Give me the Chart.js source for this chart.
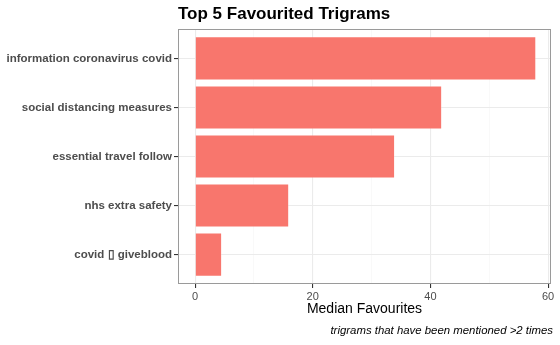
<!DOCTYPE html>
<html>
<head>
<meta charset="utf-8">
<script src="https://cdn.jsdelivr.net/npm/chart.js@4"></script>
<style>
  html, body { margin: 0; padding: 0; background: #fff; }
  #wrap { width: 560px; height: 345px; position: relative; }
</style>
</head>
<body>
<div id="wrap"><canvas id="trigramChart"></canvas></div>
<script>
// data
const trigrams = ['information coronavirus covid', 'social distancing measures', 'essential travel follow', 'nhs extra safety', 'covid \u25AF giveblood'];
const medianFavourites = [58, 42, 34, 16, 4.6];
const xTicks = [0, 10, 20, 30, 40, 50, 60];
const xLabelled = [0, 20, 40, 60];

const barColor = '#F8766D';
const majorGrid = '#ebebeb';
const minorGrid = '#f5f5f5';
const textGrey = '#4d4d4d';
const fontFamily = "'Liberation Sans', Arial, sans-serif";

Chart.defaults.font.family = fontFamily;

// title, caption and panel border in ggplot style
const decorations = {
    id: 'decorations',
    afterDraw(chart) {
        const { ctx, chartArea } = chart;
        ctx.save();
        ctx.strokeStyle = '#9a9a9a';
        ctx.lineWidth = 1;
        ctx.strokeRect(chartArea.left + 0.5, chartArea.top + 0.5, chartArea.right - chartArea.left - 1, chartArea.bottom - chartArea.top - 1);

        ctx.fillStyle = '#000';
        ctx.font = 'bold 17px ' + fontFamily;
        ctx.textBaseline = 'middle';
        ctx.textAlign = 'left';
        ctx.fillText('Top 5 Favourited Trigrams', chartArea.left, 14);

        ctx.font = 'italic 11.4px ' + fontFamily;
        ctx.textAlign = 'right';
        ctx.fillText('trigrams that have been mentioned >2 times', chartArea.right + 2, 331);
        ctx.restore();
    }
};

new Chart(document.getElementById('trigramChart'), {
    type: 'bar',
    data: {
        datasets: [{
            data: medianFavourites.map((v, i) => ({ x: v, y: i + 1 })),
            backgroundColor: barColor,
            borderColor: 'rgba(255,255,255,0.25)',
            borderWidth: 1,
            categoryPercentage: 1,
            barPercentage: 0.9
        }]
    },
    options: {
        indexAxis: 'y',
        responsive: true,
        maintainAspectRatio: false,
        animation: false,
        layout: { padding: { top: 29, right: 9, bottom: 27, left: 0 } },
        plugins: { legend: { display: false }, tooltip: { enabled: false } },
        scales: {
            x: {
                type: 'linear',
                min: -2.9,
                max: 60.5,
                afterBuildTicks: scale => { scale.ticks = xTicks.map(v => ({ value: v })); },
                afterFit: scale => { scale.height = 34; },
                border: { display: false },
                grid: {
                    color: c => (xLabelled.includes(c.tick.value) ? majorGrid : minorGrid),
                    lineWidth: c => (xLabelled.includes(c.tick.value) ? 1.1 : 0.6),
                    tickColor: c => (xLabelled.includes(c.tick.value) ? '#333' : 'rgba(0,0,0,0)'),
                    tickLength: 4
                },
                ticks: {
                    color: textGrey,
                    font: { size: 11 },
                    padding: 2,
                    maxRotation: 0,
                    autoSkip: false,
                    callback: v => (xLabelled.includes(v) ? String(v) : '')
                },
                title: {
                    display: true,
                    text: 'Median Favourites',
                    color: '#000',
                    font: { size: 14 },
                    padding: { top: 0, bottom: 0 }
                }
            },
            y: {
                type: 'linear',
                reverse: true,
                offset: false,
                min: 0.4,
                max: 5.6,
                afterBuildTicks: scale => { scale.ticks = trigrams.map((_, i) => ({ value: i + 1 })); },
                afterFit: scale => { scale.width = 178; },
                border: { display: false },
                grid: {
                    offset: false,
                    color: majorGrid,
                    lineWidth: 1.1,
                    tickColor: '#333',
                    tickLength: 4
                },
                ticks: {
                    color: textGrey,
                    font: { size: 11.5, weight: 'bold' },
                    padding: 2,
                    autoSkip: false,
                    callback: v => trigrams[v - 1]
                }
            }
        }
    },
    plugins: [decorations]
});
</script>
</body>
</html>
